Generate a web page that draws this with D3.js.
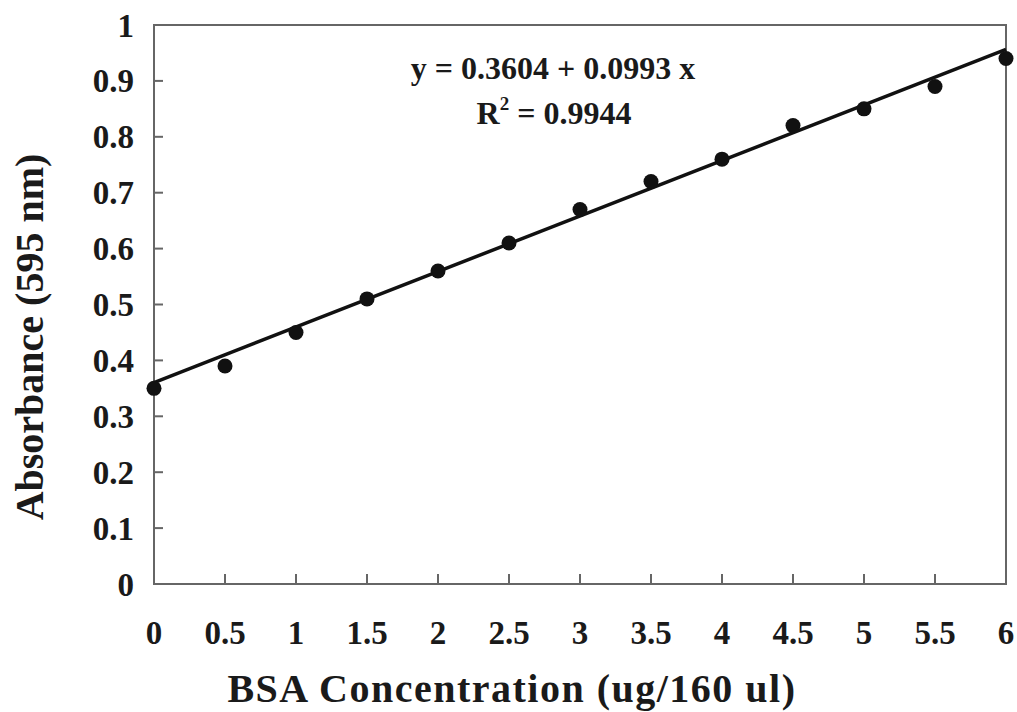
<!DOCTYPE html>
<html>
<head>
<meta charset="utf-8">
<script src="https://cdn.jsdelivr.net/npm/d3@7"></script>
<style>
  body { margin: 0; background: #fff; }
  text { font-family: "Liberation Serif", "Times New Roman", serif; font-weight: bold; fill: #1a1a1a; }
</style>
</head>
<body>
<svg id="chart" width="1017" height="712"></svg>
<script>
// data
const conc = [0, 0.5, 1, 1.5, 2, 2.5, 3, 3.5, 4, 4.5, 5, 5.5, 6];
const absorb = [0.35, 0.39, 0.45, 0.51, 0.56, 0.61, 0.67, 0.72, 0.76, 0.82, 0.85, 0.89, 0.94];
const xTicks = [0, 0.5, 1, 1.5, 2, 2.5, 3, 3.5, 4, 4.5, 5, 5.5, 6];
const yTicks = [0, 0.1, 0.2, 0.3, 0.4, 0.5, 0.6, 0.7, 0.8, 0.9, 1];
const fitIntercept = 0.3604;
const fitSlope = 0.0993;

const svg = d3.select("#chart");
const plotL = 154, plotR = 1006, plotT = 25, plotB = 584;

const x = d3.scaleLinear().domain([0, 6]).range([plotL, plotR]);
const y = d3.scaleLinear().domain([0, 1]).range([plotB, plotT]);

// frame
svg.append("rect")
  .attr("x", plotL).attr("y", plotT)
  .attr("width", plotR - plotL).attr("height", plotB - plotT)
  .attr("fill", "none").attr("stroke", "#666").attr("stroke-width", 2);

// inward ticks
svg.append("g").selectAll("line")
  .data(yTicks.filter(d => d > 0 && d < 1)).join("line")
  .attr("x1", plotL).attr("x2", plotL + 9)
  .attr("y1", d => y(d)).attr("y2", d => y(d))
  .attr("stroke", "#666").attr("stroke-width", 2);

svg.append("g").selectAll("line")
  .data(xTicks.filter(d => d > 0 && d < 6)).join("line")
  .attr("x1", d => x(d)).attr("x2", d => x(d))
  .attr("y1", plotB).attr("y2", plotB - 10)
  .attr("stroke", "#666").attr("stroke-width", 2);

// tick labels
svg.append("g").selectAll("text")
  .data(yTicks).join("text")
  .attr("x", 134).attr("y", d => y(d))
  .attr("dy", "0.35em")
  .attr("text-anchor", "end")
  .attr("font-size", 33)
  .text(d => d3.format("")(d));

svg.append("g").selectAll("text")
  .data(xTicks).join("text")
  .attr("x", d => x(d)).attr("y", 644)
  .attr("text-anchor", "middle")
  .attr("font-size", 33)
  .text(d => d3.format("")(d));

// axis titles
svg.append("text")
  .attr("x", 512).attr("y", 702)
  .attr("text-anchor", "middle")
  .attr("font-size", 40)
  .attr("letter-spacing", 1.5)
  .text("BSA Concentration (ug/160 ul)");

svg.append("text")
  .attr("transform", "translate(43,337) rotate(-90)")
  .attr("text-anchor", "middle")
  .attr("font-size", 40)
  .text("Absorbance (595 nm)");

// regression line
svg.append("line")
  .attr("x1", x(0)).attr("y1", y(fitIntercept))
  .attr("x2", x(6)).attr("y2", y(fitIntercept + fitSlope * 6))
  .attr("stroke", "#111").attr("stroke-width", 3.5);

// points
svg.append("g").selectAll("circle")
  .data(conc.map((c, i) => [c, absorb[i]])).join("circle")
  .attr("cx", d => x(d[0])).attr("cy", d => y(d[1]))
  .attr("r", 7.5).attr("fill", "#111");

// equation
svg.append("text")
  .attr("x", 553).attr("y", 79)
  .attr("text-anchor", "middle")
  .attr("font-size", 32)
  .text("y = 0.3604 + 0.0993 x");

const r2 = svg.append("text")
  .attr("x", 554).attr("y", 124)
  .attr("text-anchor", "middle")
  .attr("font-size", 32);
r2.append("tspan").text("R");
r2.append("tspan").attr("dy", -14).attr("font-size", 19).text("2");
r2.append("tspan").attr("dy", 14).text(" = 0.9944");
</script>
</body>
</html>
